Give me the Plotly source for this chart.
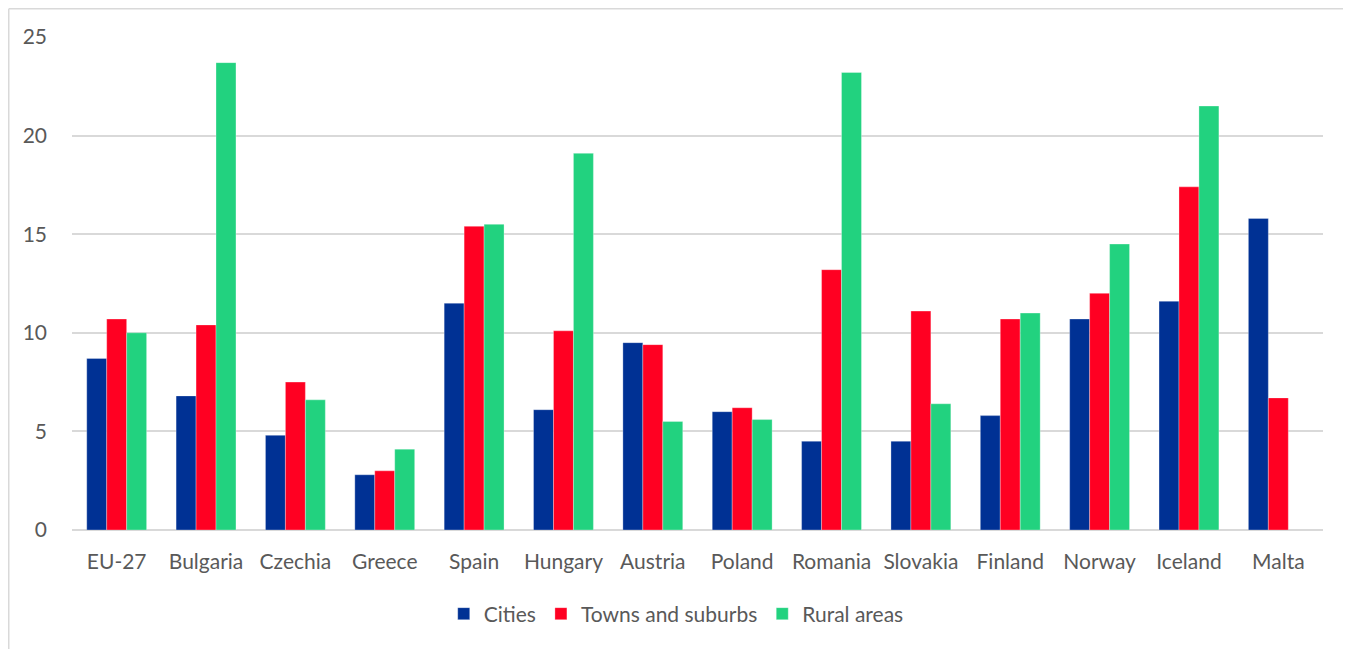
import plotly.graph_objects as go

countries = ["EU-27", "Bulgaria", "Czechia", "Greece", "Spain", "Hungary", "Austria",
             "Poland", "Romania", "Slovakia", "Finland", "Norway", "Iceland", "Malta"]
cities = [8.7, 6.8, 4.8, 2.8, 11.5, 6.1, 9.5, 6.0, 4.5, 4.5, 5.8, 10.7, 11.6, 15.8]
towns = [10.7, 10.4, 7.5, 3.0, 15.4, 10.1, 9.4, 6.2, 13.2, 11.1, 10.7, 12.0, 17.4, 6.7]
rural = [10.0, 23.7, 6.6, 4.1, 15.5, 19.1, 5.5, 5.6, 23.2, 6.4, 11.0, 14.5, 21.5, None]

series = [("Cities", cities, "#003194"),
          ("Towns and suburbs", towns, "#FF0022"),
          ("Rural areas", rural, "#22D27F")]

fig = go.Figure()
for name, vals, col in series:
    fig.add_trace(go.Bar(x=countries, y=vals, name=name,
                         marker=dict(color=col, line=dict(color="rgba(255,255,255,0.6)", width=0.5))))

W, H = 1343, 641
L, R, T, B = 64, 28, 29, 119
PW, PH = W - L - R, H - T - B
fig.update_layout(
    width=W, height=H,
    margin=dict(l=L, r=R, t=T, b=B),
    plot_bgcolor="white", paper_bgcolor="white",
    barmode="group", bargap=0.33, bargroupgap=0,
    font=dict(family="Lato", size=21, color="#595959"),
    xaxis=dict(showgrid=False, showline=False, ticks="", ticklabelstandoff=17,
               tickfont=dict(size=21, color="#595959")),
    yaxis=dict(range=[0, 25], dtick=5, showgrid=True, gridcolor="#D9D9D9", gridwidth=1.5,
               zeroline=True, zerolinecolor="#D9D9D9", zerolinewidth=1.5,
               showline=False, ticks="", ticklabelstandoff=24,
               tickfont=dict(size=21, color="#595959")),
    legend=dict(orientation="h", x=0.483, xanchor="center", y=(522 - 606) / PH, yanchor="middle",
                font=dict(size=21, color="#595959"), traceorder="normal"),
    showlegend=True,
)

# outer chart border: only top and left edges are visible in the reference
x_left = (0.75 - L) / PW
y_top = 1 + (T - 0.75) / PH
fig.add_shape(type="line", xref="paper", yref="paper",
              x0=x_left, x1=(W + 40 - L) / PW, y0=y_top, y1=y_top,
              line=dict(color="#D9D9D9", width=1.5), layer="below")
fig.add_shape(type="line", xref="paper", yref="paper",
              x0=x_left, x1=x_left, y0=y_top, y1=-(B + 40) / PH,
              line=dict(color="#D9D9D9", width=1.5), layer="below")

fig.write_html("out.html")
